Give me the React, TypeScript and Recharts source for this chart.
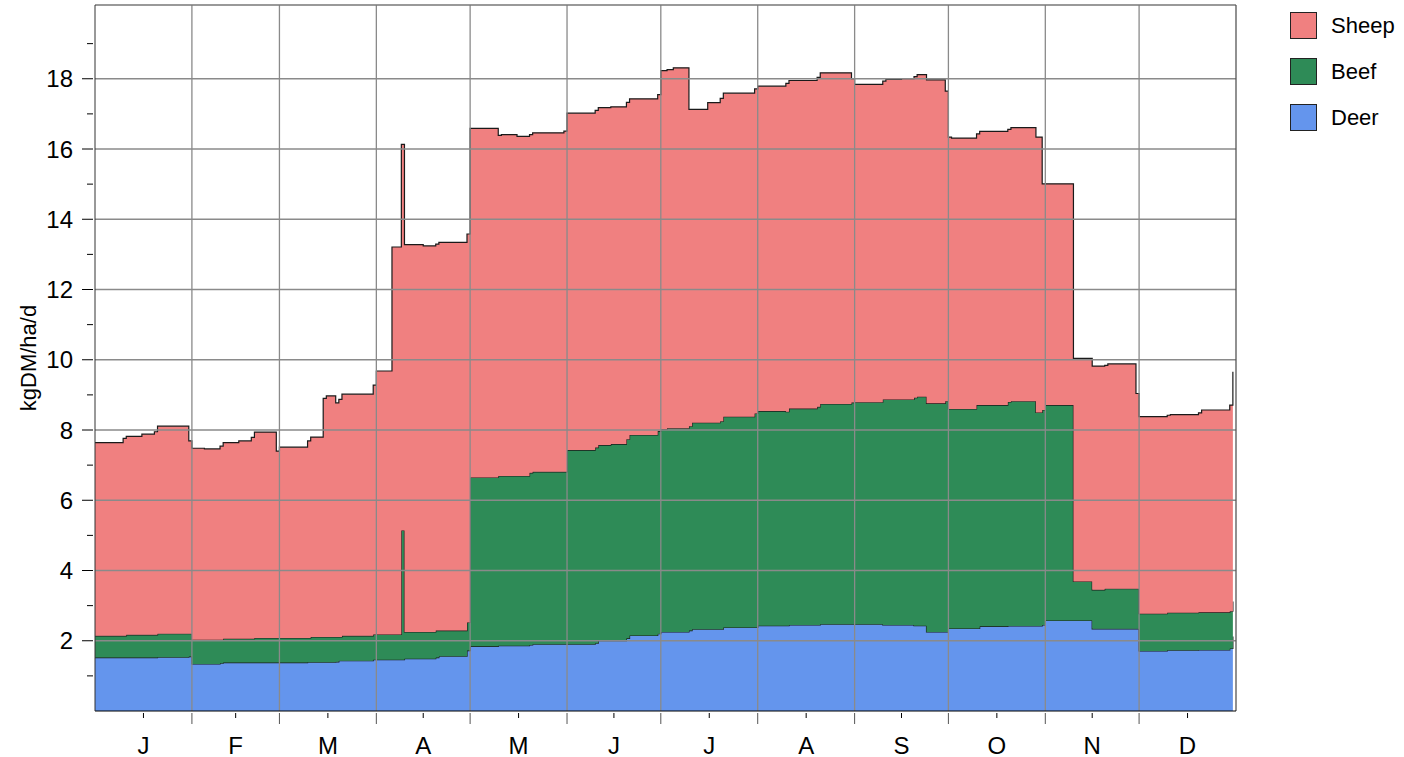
import { AreaChart, Area, XAxis, YAxis, ReferenceLine } from 'recharts'

// month boundaries (day of year) and the single-letter labels
const monthNames = ['J', 'F', 'M', 'A', 'M', 'J', 'J', 'A', 'S', 'O', 'N', 'D']
const monthStarts = [0, 31, 59, 90, 120, 151, 181, 212, 243, 273, 304, 334, 365]
const yLabelTicks = [2, 4, 6, 8, 10, 12, 14, 16, 18]
const yMinorTicks = [1, 3, 5, 7, 9, 11, 13, 15, 17, 19]
const Y_MAX = 20.1

// stacked top of each layer as [day, kgDM/ha/d]
const sheepLine: [number, number][] = [
  [0, 7.64], [9, 7.76], [10, 7.82], [15, 7.88], [19, 7.95], [20, 8.11], [30, 7.69], [31, 7.48],
  [35, 7.46], [40, 7.54], [41, 7.64], [46, 7.69], [50, 7.79], [51, 7.94], [58, 7.4], [59, 7.51],
  [68, 7.69], [69, 7.8], [73, 8.9], [74, 8.97], [77, 8.77], [78, 8.87], [79, 9.02], [89, 9.28],
  [90, 9.68], [95, 13.21], [98, 16.13], [99, 13.28], [105, 13.24], [109, 13.29], [110, 13.34],
  [119, 13.58], [120, 16.59], [129, 16.39], [130, 16.41], [135, 16.36], [139, 16.41], [140, 16.46],
  [150, 16.51], [151, 17.02], [160, 17.1], [161, 17.18], [165, 17.2], [170, 17.33], [171, 17.43],
  [180, 17.55], [181, 18.23], [183, 18.26], [185, 18.31], [190, 17.13], [196, 17.32], [200, 17.44],
  [201, 17.59], [211, 17.71], [212, 17.79], [221, 17.87], [222, 17.95], [231, 18.04], [232, 18.17],
  [242, 18.0], [243, 17.84], [252, 17.93], [253, 17.98], [258, 18.0], [262, 18.06], [263, 18.12],
  [266, 17.97], [272, 17.65], [273, 16.34], [274, 16.31], [282, 16.43], [283, 16.5], [292, 16.56],
  [293, 16.61], [301, 16.34], [303, 15.01], [313, 10.04], [319, 9.82], [323, 9.84], [324, 9.88],
  [333, 9.04], [334, 8.38], [343, 8.42], [344, 8.44], [353, 8.49], [354, 8.57], [363, 8.71], [364, 9.66],
]

const beefLine: [number, number][] = [
  [0, 2.14], [10, 2.17], [20, 2.2], [31, 2.03], [41, 2.06], [51, 2.08], [69, 2.11], [79, 2.14],
  [89, 2.18], [98, 5.14], [99, 2.25], [109, 2.29], [119, 2.52], [120, 6.65], [129, 6.69], [139, 6.78],
  [140, 6.81], [151, 7.43], [160, 7.5], [161, 7.57], [165, 7.6], [170, 7.74], [171, 7.86], [180, 7.97],
  [181, 8.02], [183, 8.05], [190, 8.11], [191, 8.21], [200, 8.25], [201, 8.38], [211, 8.47], [212, 8.54],
  [221, 8.52], [222, 8.61], [231, 8.66], [232, 8.74], [242, 8.78], [243, 8.79], [252, 8.87], [262, 8.92],
  [263, 8.95], [266, 8.76], [272, 8.82], [273, 8.6], [282, 8.71], [292, 8.8], [293, 8.82], [301, 8.5],
  [303, 8.57], [304, 8.71], [313, 3.69], [319, 3.45], [323, 3.48], [334, 2.77], [343, 2.8], [353, 2.81],
  [363, 2.84], [364, 3.12],
]

const deerLine: [number, number][] = [
  [0, 1.52], [20, 1.53], [30, 1.55], [31, 1.34], [40, 1.36], [41, 1.38], [68, 1.39], [77, 1.4],
  [78, 1.43], [89, 1.46], [99, 1.49], [109, 1.52], [110, 1.56], [119, 1.72], [120, 1.84], [129, 1.86],
  [139, 1.88], [140, 1.9], [160, 1.93], [161, 2.0], [170, 2.07], [171, 2.15], [180, 2.2], [181, 2.25],
  [190, 2.29], [191, 2.33], [201, 2.38], [212, 2.43], [222, 2.45], [232, 2.47], [252, 2.45], [262, 2.43],
  [266, 2.25], [273, 2.35], [283, 2.41], [292, 2.42], [303, 2.45], [304, 2.58], [319, 2.34], [334, 1.71],
  [343, 1.73], [353, 1.74], [363, 1.78], [364, 2.12],
]

const FONT = '"Liberation Sans", Arial, sans-serif'

const legendItems = [
  { name: 'Sheep', color: '#F08080' },
  { name: 'Beef', color: '#2E8B57' },
  { name: 'Deer', color: '#6495ED' },
]

function valueAt(line: [number, number][], day: number) {
  let v = line[0][1]
  for (const [d, val] of line) {
    if (d <= day) v = val
    else break
  }
  return v
}

const days = Array.from(new Set([...sheepLine, ...beefLine, ...deerLine].map(p => p[0]))).sort((a, b) => a - b)

const data = days.map(day => {
  const deer = valueAt(deerLine, day)
  const beef = valueAt(beefLine, day)
  const sheep = valueAt(sheepLine, day)
  return { day, deer, beef: +(beef - deer).toFixed(3), sheep: +(sheep - beef).toFixed(3) }
})

const monthMids = monthNames.map((_, i) => (monthStarts[i] + monthStarts[i + 1]) / 2)
const monthEdges = monthStarts.slice(1, -1)

function MonthTick({ x, y, payload }: any) {
  const i = monthMids.indexOf(payload.value)
  if (i >= 0) {
    return (
      <g>
        <line x1={x} x2={x} y1={y} y2={y + 5} stroke="#000" />
        <text x={x} y={y + 32} textAnchor="middle" dominantBaseline="central" fontSize={24} fontFamily={FONT} fill="#000">
          {monthNames[i]}
        </text>
      </g>
    )
  }
  return <line x1={x} x2={x} y1={y} y2={y + 11} stroke="#555" />
}

function ValueTick({ x, y, payload }: any) {
  const v = payload.value
  if (v % 2 === 0) {
    return (
      <g>
        <line x1={x - 11} x2={x} y1={y} y2={y} stroke="#000" />
        <text x={x - 20} y={y} textAnchor="end" dominantBaseline="central" fontSize={24} fontFamily={FONT} fill="#000">
          {v}
        </text>
      </g>
    )
  }
  return <line x1={x - 6} x2={x} y1={y} y2={y} stroke="#000" />
}

export default function App() {
  return (
    <div style={{ position: 'absolute', left: 0, top: 0, width: 1404, height: 757, background: '#fff' }}>
      <AreaChart width={1404} height={757} data={data} margin={{ top: 5, right: 168, bottom: 0, left: 0 }}>
        <XAxis
          dataKey="day"
          type="number"
          domain={[0, 365]}
          ticks={[...monthEdges, ...monthMids].sort((a, b) => a - b)}
          interval={0}
          tick={<MonthTick />}
          tickLine={false}
          tickSize={0}
          height={46}
          axisLine={{ stroke: '#000' }}
          allowDataOverflow
        />
        <YAxis
          type="number"
          domain={[0, Y_MAX]}
          ticks={[...yMinorTicks, ...yLabelTicks].sort((a, b) => a - b)}
          interval={0}
          tick={<ValueTick />}
          tickLine={false}
          tickSize={0}
          width={95}
          axisLine={{ stroke: '#333' }}
          allowDataOverflow
          label={{
            value: 'kgDM/ha/d',
            angle: -90,
            position: 'insideLeft',
            offset: 28,
            style: { textAnchor: 'middle', fontSize: 22, fontFamily: FONT, fill: '#000' },
          }}
        />
        <Area type="stepAfter" dataKey="deer" stackId="a" fill="#6495ED" fillOpacity={1} stroke="#1a1a1a" strokeWidth={1.2} isAnimationActive={false} />
        <Area type="stepAfter" dataKey="beef" stackId="a" fill="#2E8B57" fillOpacity={1} stroke="#1a1a1a" strokeWidth={1.2} isAnimationActive={false} />
        <Area type="stepAfter" dataKey="sheep" stackId="a" fill="#F08080" fillOpacity={1} stroke="#1a1a1a" strokeWidth={1.2} isAnimationActive={false} />
        {yLabelTicks.map(v => (
          <ReferenceLine key={'h' + v} y={v} stroke="#8a8a8a" strokeWidth={1.3} />
        ))}
        {monthEdges.map(d => (
          <ReferenceLine key={'v' + d} x={d} stroke="#8a8a8a" strokeWidth={1.3} />
        ))}
        <ReferenceLine y={Y_MAX} stroke="#777" strokeWidth={1.3} />
        <ReferenceLine x={365} stroke="#555" strokeWidth={1.3} />
      </AreaChart>
      <div style={{ position: 'absolute', left: 1290, top: 12, fontFamily: FONT, fontSize: 22 }}>
        {legendItems.map(item => (
          <div key={item.name} style={{ display: 'flex', alignItems: 'center', height: 27, marginBottom: 19 }}>
            <div style={{ width: 25, height: 25, background: item.color, border: '1px solid #222' }} />
            <span style={{ marginLeft: 14 }}>{item.name}</span>
          </div>
        ))}
      </div>
    </div>
  )
}
